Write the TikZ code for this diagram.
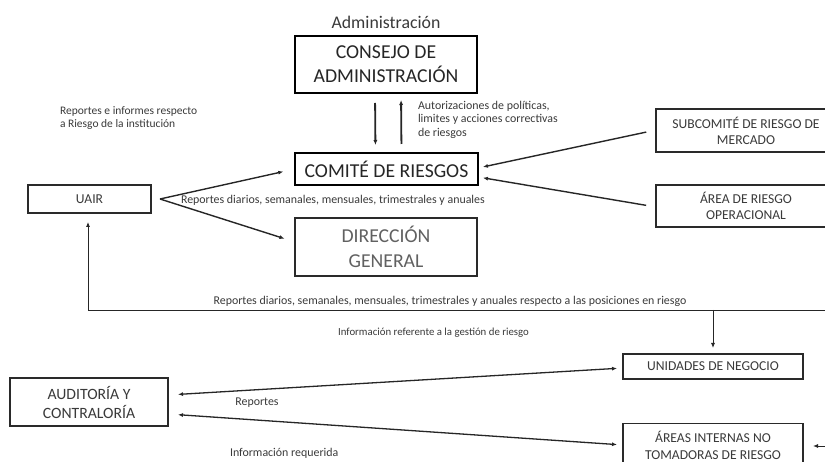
\documentclass[tikz,border=0pt]{standalone}
\usepackage{fontspec}
\setmainfont{Carlito}
\usetikzlibrary{arrows.meta,calc}
\definecolor{txt}{HTML}{3A3A3A}
\definecolor{edge}{HTML}{2A2A2A}
\begin{document}
\begin{tikzpicture}[x=1pt,y=-1pt,
  every node/.style={inner sep=0pt,outer sep=0pt,text=txt,align=center},
  bigbox/.style={draw=black,line width=2.2pt,minimum width=182pt,font=\fontsize{19.7}{24}\selectfont,text=black!85},
  midbox/.style={draw=edge,line width=1.6pt,minimum width=182pt,font=\fontsize{19.7}{25}\selectfont,text=black!62},
  smallbox/.style={draw=edge,line width=1.5pt,font=\fontsize{13.6}{16}\selectfont},
  lbl/.style={font=\fontsize{11.9}{13.5}\selectfont},
  slbl/.style={font=\fontsize{11.9}{13}\selectfont},
  arr/.style={-{Latex[length=5pt,width=4pt]},draw=black!85},
  darr/.style={{Latex[length=5pt,width=4pt]}-{Latex[length=5pt,width=4pt]},draw=black!85,line width=1.3pt}
]
\useasboundingbox (0,0) rectangle (825,462);
\clip (0,0) rectangle (825,462);
\fill[white] (0,0) rectangle (825,462);

% nodes
\node (adm) at (386,22) {\fontsize{17.8}{20}\selectfont Administración};
\node[bigbox,minimum height=57pt] (consejo) at (386,64.5) {CONSEJO DE\\ADMINISTRACIÓN};
\node[bigbox,minimum height=32pt,minimum width=183pt] (comite) at (386.5,169) {COMITÉ DE RIESGOS};
\node[midbox,minimum height=58pt] (dir) at (386,247) {DIRECCIÓN\\GENERAL};
\node[smallbox,minimum width=123pt,minimum height=28pt] (uair) at (89.5,199) {UAIR};
\node[smallbox,minimum width=180pt,minimum height=43pt] (sub) at (746,130.5) {SUBCOMITÉ DE RIESGO DE\\MERCADO};
\node[smallbox,minimum width=180pt,minimum height=42pt] (area) at (746,206) {ÁREA DE RIESGO\\OPERACIONAL};
\node[smallbox,minimum width=180pt,minimum height=25pt] (uni) at (713,366.5) {UNIDADES DE NEGOCIO};
\node[smallbox,minimum width=180pt,minimum height=44pt,font=\fontsize{13.6}{16.5}\selectfont] (areas) at (713,445.5) {ÁREAS INTERNAS NO\\TOMADORAS DE RIESGO};
\node[smallbox,minimum width=158pt,minimum height=48pt,font=\fontsize{15.7}{19}\selectfont] (aud) at (89,402) {AUDITORÍA Y\\CONTRALORÍA};

% labels
\node[lbl,anchor=north west,align=left] (lautor) at (418,101) {Autorizaciones de políticas,\\limites y acciones correctivas\\de riesgos};
\node[font=\fontsize{11.5}{13}\selectfont,anchor=north west,align=left] (lrep) at (60,107) {Reportes e informes respecto\\a Riesgo de la institución};
\node[slbl,anchor=west] (ldiar) at (181,200.5) {Reportes diarios, semanales, mensuales, trimestrales y anuales};
\node[slbl] (lpos) at (450,301) {Reportes diarios, semanales, mensuales, trimestrales y anuales respecto a las posiciones en riesgo};
\node[font=\fontsize{10.8}{13}\selectfont] (linfo) at (433.5,333) {Información referente a la gestión de riesgo};
\node[slbl] (lreportes) at (257,403) {Reportes};
\node[slbl,anchor=west] (lreq) at (230,453) {Información requerida};

% coordinates
\coordinate (uairout) at ([xshift=9pt]uair.east);
\coordinate (src) at (826,310);
\coordinate (srcb) at (826,446);

% connectors
\draw[arr,line width=1.8pt,shorten <=10pt,shorten >=8pt] ([xshift=-11pt]consejo.south) -- ([xshift=-11pt]comite.north);
\draw[arr,line width=1.8pt,shorten <=9pt,shorten >=7pt] ([xshift=15pt]comite.north) -- ([xshift=15pt]consejo.south);
\draw[arr,line width=1.4pt,shorten >=12pt] (uairout) -- (comite.west);
\draw[arr,line width=1.4pt,shorten >=11pt] (uairout) -- ([yshift=5pt]dir.west);
\draw[arr,line width=1.4pt,shorten <=10pt,shorten >=5pt] ([yshift=0.5pt]sub.west) -- ([yshift=1pt]comite.east);
\draw[arr,line width=1.4pt,shorten <=10pt,shorten >=5pt] ([yshift=-1pt]area.west) -- ([yshift=-8pt]comite.east);
\draw[arr,line width=0.8pt,shorten >=9pt] (src) -| ([xshift=-1.5pt]uair.south);
\draw[arr,line width=0.8pt,shorten >=6pt] (uni.north |- src) -- (uni.north);
\draw[darr,shorten <=10pt,shorten >=6pt] ([yshift=7pt]aud.east) -- ([yshift=-1.5pt]uni.west);
\draw[darr,shorten <=10pt,shorten >=6pt] ([yshift=-12pt]aud.east) -- ([yshift=0.5pt]areas.west);
\draw[arr,line width=1pt,shorten >=10pt] (srcb) -- ([yshift=-0.5pt]areas.east);
\end{tikzpicture}
\end{document}
